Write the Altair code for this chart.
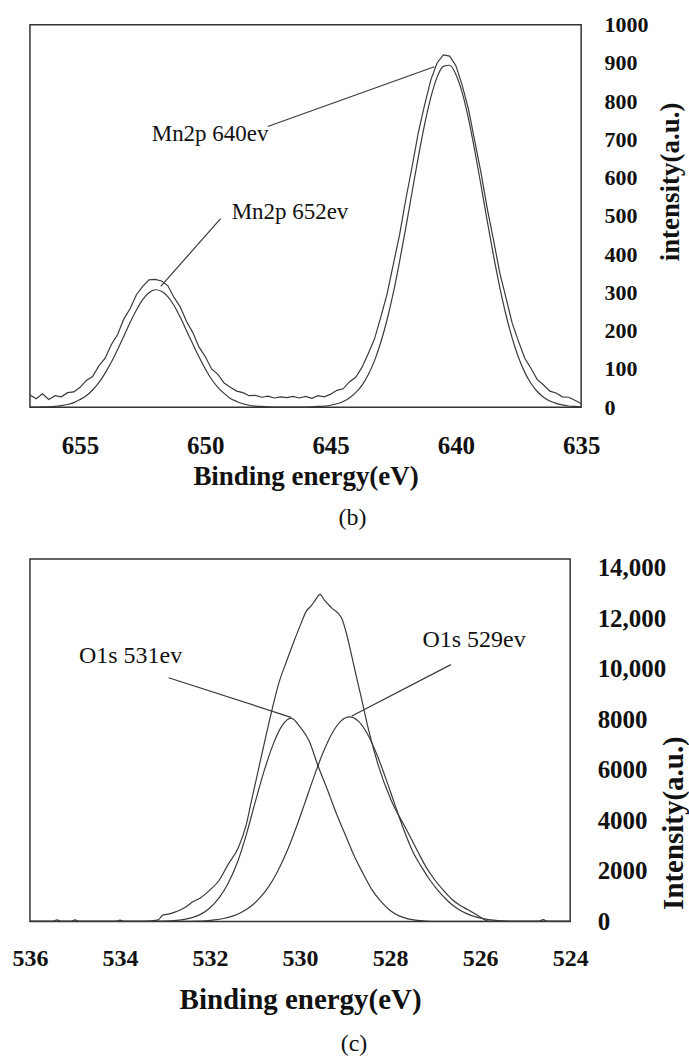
import altair as alt
import pandas as pd

FONT = "Liberation Serif"
INK = "#111111"
LINE = "#3a3a3a"

# ---------------- panel (b): Mn2p ----------------
mn_x = [657.0, 656.75, 656.5, 656.25,
        656.0, 655.75, 655.5, 655.25,
        655.0, 654.75, 654.5, 654.25,
        654.0, 653.75, 653.5, 653.25,
        653.0, 652.75, 652.5, 652.25,
        652.0, 651.75, 651.5, 651.25,
        651.0, 650.75, 650.5, 650.25,
        650.0, 649.75, 649.5, 649.25,
        649.0, 648.75, 648.5, 648.25,
        648.0, 647.75, 647.5, 647.25,
        647.0, 646.75, 646.5, 646.25,
        646.0, 645.75, 645.5, 645.25,
        645.0, 644.75, 644.5, 644.25,
        644.0, 643.75, 643.5, 643.25,
        643.0, 642.75, 642.5, 642.25,
        642.0, 641.75, 641.5, 641.25,
        641.0, 640.75, 640.5, 640.25,
        640.0, 639.75, 639.5, 639.25,
        639.0, 638.75, 638.5, 638.25,
        638.0, 637.75, 637.5, 637.25,
        637.0, 636.75, 636.5, 636.25,
        636.0, 635.75, 635.5, 635.25,
        635.0]
mn_raw = [32, 22, 35, 20,
          30, 27, 38, 40,
          52, 70, 80, 108,
          128, 164, 190, 231,
          258, 294, 316, 333,
          334, 330, 318, 287,
          262, 224, 195, 157,
          132, 100, 86, 63,
          52, 42, 38, 30,
          31, 26, 29, 24,
          27, 25, 28, 24,
          28, 23, 30, 27,
          34, 44, 48, 66,
          78, 104, 140, 178,
          235, 295, 373, 450,
          543, 628, 718, 790,
          856, 900, 921, 918,
          893, 842, 780, 697,
          614, 520, 438, 352,
          286, 219, 172, 128,
          101, 72, 58, 42,
          37, 27, 26, 18,
          9]
mn_fit = [0, 0, 1, 1,
          2, 4, 7, 12,
          20, 30, 45, 64,
          89, 118, 151, 186,
          222, 254, 281, 299,
          307, 303, 289, 266,
          235, 200, 165, 131,
          100, 73, 52, 36,
          23, 15, 9, 5,
          3, 2, 1, 0,
          0, 0, 0, 0,
          0, 1, 2, 3,
          5, 9, 15, 24,
          38, 57, 85, 121,
          169, 228, 298, 380,
          469, 562, 654, 739,
          810, 863, 891, 894,
          870, 823, 755, 672,
          581, 487, 397, 314,
          241, 180, 130, 91,
          62, 41, 26, 16,
          10, 6, 3, 2,
          1]
mn_xticks = [655, 650, 645, 640, 635]
mn_yticks = [0, 100, 200, 300, 400, 500, 600, 700, 800, 900, 1000]
mn_labels = ["Mn2p 640ev", "Mn2p 652ev"]
mn_label_x = [652.14, 648.95]
mn_label_y = [697, 492]
mn_lead_x1 = [647.51, 649.39]
mn_lead_y1 = [734, 493]
mn_lead_x2 = [640.86, 651.78]
mn_lead_y2 = [890, 316]

# ---------------- panel (c): O1s ----------------
o_env_x = [536.0, 535.5, 535.4, 535.3, 535.1, 535.0, 534.9, 534.1, 534.0, 533.9,
           533.6, 533.3, 533.15, 533.05, 532.9, 532.7, 532.55, 532.4, 532.2, 532.0,
           531.8, 531.6, 531.37, 531.2, 531.08, 530.85, 530.63, 530.48, 530.3, 530.19,
           530.0, 529.86, 529.75, 529.65, 529.56, 529.45, 529.3, 529.08, 528.97, 528.86,
           528.75, 528.64, 528.49, 528.27, 527.97, 527.67, 527.38, 527.2, 527.01, 526.8,
           526.64, 526.45, 526.27, 526.1, 525.95, 525.85, 525.8, 525.0, 524.7, 524.6,
           524.5, 524.0]
o_env_y = [0, 0, 60, 0, 0, 60, 0, 0, 50, 0,
           0, 20, 60, 250, 300, 420, 560, 760, 950, 1250,
           1620, 2250, 2926, 3800, 4772, 6615, 8329, 9384, 10300, 10834,
           11700, 12285, 12500, 12750, 12950, 12700, 12416, 12020, 11400, 10570,
           9700, 8857, 7671, 6220, 4772, 3750, 2750, 2150, 1650, 1200,
           900, 640, 460, 280, 120, 20, 0, 0, 0, 70,
           0, 0]
o_c531_x = [536.0, 533.4, 533.2, 533.0, 532.8, 532.6, 532.4, 532.2, 532.0, 531.8,
            531.6, 531.4, 531.2, 531.0, 530.8, 530.6, 530.4, 530.2, 530.0, 529.8,
            529.6, 529.4, 529.2, 529.0, 528.8, 528.6, 528.4, 528.2, 528.0, 527.8,
            527.6, 527.4, 527.2, 527.0, 524.0]
o_c531_y = [0, 0, 4, 12, 30, 70, 150, 290, 540, 930,
            1500, 2300, 3400, 4700, 5950, 7000, 7750, 8050, 7700, 7150,
            6150, 5250, 4300, 3450, 2600, 1900, 1250, 780, 430, 220,
            100, 40, 12, 0, 0]
o_c529_x = [536.0, 532.7, 532.5, 532.3, 532.1, 531.9, 531.7, 531.5, 531.3, 531.1,
            530.9, 530.7, 530.5, 530.3, 530.1, 529.9, 529.7, 529.5, 529.3, 529.1,
            528.9, 528.7, 528.5, 528.3, 528.1, 527.9, 527.7, 527.5, 527.3, 527.1,
            526.9, 526.7, 526.5, 526.3, 526.1, 525.9, 525.7, 525.5, 525.3, 525.1,
            524.0]
o_c529_y = [0, 0, 3, 10, 28, 60, 115, 210, 360, 590,
            920, 1370, 1980, 2735, 3648, 4655, 5682, 6636, 7413, 7922,
            8100, 7922, 7413, 6636, 5682, 4655, 3648, 2780, 2150, 1600,
            1150, 780, 500, 310, 180, 100, 50, 20, 5, 0,
            0]
o_xticks = [536, 534, 532, 530, 528, 526, 524]
o_yticks = [0, 2000, 4000, 6000, 8000, 10000, 12000, 14000]
o_labels = ["O1s 531ev", "O1s 529ev"]
o_label_x = [534.91, 527.28]
o_label_y = [10241, 10874]
o_lead_x1 = [532.92, 526.65]
o_lead_y1 = [9648, 10166]
o_lead_x2 = [530.2, 528.85]
o_lead_y2 = [8080, 8130]


def x_axis(values, label_size, pad, title_size, title_y):
    return alt.Axis(values=values, title="Binding energy(eV)", grid=False, ticks=False,
                    tickSize=0, domain=False, labelFlush=False, labelOverlap=False,
                    labelFont=FONT, labelFontSize=label_size, labelFontWeight="bold",
                    labelColor=INK, labelPadding=pad,
                    titleFont=FONT, titleFontSize=title_size, titleFontWeight="bold",
                    titleColor=INK, titleBaseline="alphabetic", titleY=title_y)


def y_axis(values, title, label_size, pad, title_size, title_x, title_y, label_expr):
    return alt.Axis(orient="right", values=values, title=title, grid=False, ticks=False,
                    tickSize=0, domain=False, labelFlush=False, labelOverlap=False,
                    labelFont=FONT, labelFontSize=label_size, labelFontWeight="bold",
                    labelColor=INK, labelPadding=pad, labelAlign="left", labelExpr=label_expr,
                    titleFont=FONT, titleFontSize=title_size, titleFontWeight="bold",
                    titleColor=INK, titleAngle=270, titleAlign="center",
                    titleBaseline="alphabetic", titleX=title_x, titleY=title_y)


# ---- top panel
xs_b = alt.Scale(domain=[635, 657], reverse=True, nice=False, zero=False)
ys_b = alt.Scale(domain=[0, 1000], nice=False, zero=True)
xa_b = x_axis(mn_xticks, 25, 26, 27, 77)
ya_b = y_axis(mn_yticks, "intensity(a.u.)", 22, 23, 27, 97, 157, "format(datum.value, 'd')")

mn_df = pd.DataFrame({"x": mn_x, "raw": mn_raw, "fit": mn_fit})
mn_lab = pd.DataFrame({"label": mn_labels, "x": mn_label_x, "y": mn_label_y})
mn_lead = pd.DataFrame({"x": mn_lead_x1, "y": mn_lead_y1, "x2": mn_lead_x2, "y2": mn_lead_y2})

raw_b = alt.Chart(mn_df).mark_line(color=LINE, strokeWidth=1.2, clip=True).encode(
    x=alt.X("x:Q", scale=xs_b, axis=xa_b), y=alt.Y("raw:Q", scale=ys_b, axis=ya_b))
fit_b = alt.Chart(mn_df).mark_line(color=LINE, strokeWidth=1.2, clip=True, interpolate="monotone").encode(
    x=alt.X("x:Q", scale=xs_b, axis=xa_b), y=alt.Y("fit:Q", scale=ys_b, axis=ya_b))
lead_b = alt.Chart(mn_lead).mark_rule(color=LINE, strokeWidth=1.2).encode(
    x=alt.X("x:Q", scale=xs_b, axis=xa_b), y=alt.Y("y:Q", scale=ys_b, axis=ya_b), x2="x2:Q", y2="y2:Q")
text_b = alt.Chart(mn_lab).mark_text(align="left", baseline="alphabetic", font=FONT, fontSize=23, color=INK).encode(
    x=alt.X("x:Q", scale=xs_b, axis=xa_b), y=alt.Y("y:Q", scale=ys_b, axis=ya_b), text="label:N")

top = alt.layer(raw_b, fit_b, lead_b, text_b).properties(
    width=552, height=383,
    title=alt.TitleParams("(b)", orient="bottom", anchor="middle", font=FONT, fontSize=24,
                          fontWeight="normal", color=INK, offset=17, dx=47))

# ---- bottom panel
xs_c = alt.Scale(domain=[524, 536], reverse=True, nice=False, zero=False)
ys_c = alt.Scale(domain=[0, 14350], nice=False, zero=True)
xa_c = x_axis(o_xticks, 24, 25, 29, 87)
ya_c = y_axis(o_yticks, "Intensity(a.u.)", 25, 27, 29, 112, 264,
              "datum.value >= 10000 ? format(datum.value, ',') : format(datum.value, 'd')")

env_df = pd.DataFrame({"x": o_env_x, "y": o_env_y})
c531_df = pd.DataFrame({"x": o_c531_x, "y": o_c531_y})
c529_df = pd.DataFrame({"x": o_c529_x, "y": o_c529_y})
o_lab = pd.DataFrame({"label": o_labels, "x": o_label_x, "y": o_label_y})
o_lead = pd.DataFrame({"x": o_lead_x1, "y": o_lead_y1, "x2": o_lead_x2, "y2": o_lead_y2})


def oline(df):
    return alt.Chart(df).mark_line(color=LINE, strokeWidth=1.2, clip=True, interpolate="monotone").encode(
        x=alt.X("x:Q", scale=xs_c, axis=xa_c), y=alt.Y("y:Q", scale=ys_c, axis=ya_c))


lead_c = alt.Chart(o_lead).mark_rule(color=LINE, strokeWidth=1.2).encode(
    x=alt.X("x:Q", scale=xs_c, axis=xa_c), y=alt.Y("y:Q", scale=ys_c, axis=ya_c), x2="x2:Q", y2="y2:Q")
text_c = alt.Chart(o_lab).mark_text(align="left", baseline="alphabetic", font=FONT, fontSize=24, color=INK).encode(
    x=alt.X("x:Q", scale=xs_c, axis=xa_c), y=alt.Y("y:Q", scale=ys_c, axis=ya_c), text="label:N")

bottom = alt.layer(oline(env_df), oline(c531_df), oline(c529_df), lead_c, text_c).properties(
    width=541, height=363,
    title=alt.TitleParams("(c)", orient="bottom", anchor="middle", font=FONT, fontSize=24,
                          fontWeight="normal", color=INK, offset=18, dx=54))

chart = alt.vconcat(top, bottom, spacing=24).properties(
    padding={"left": 11, "top": 12, "right": 0, "bottom": 0}
).configure(font=FONT).configure_view(stroke="#333333", strokeWidth=1.5)

chart.save("out.html", embed_options={"renderer": "svg", "actions": False})
